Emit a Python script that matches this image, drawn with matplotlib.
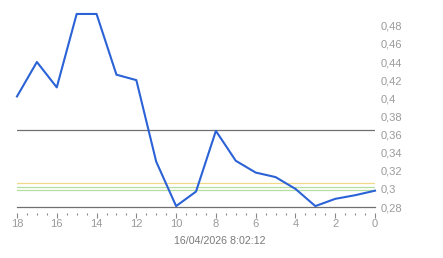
import numpy as np
import matplotlib
matplotlib.use("Agg")
import matplotlib.pyplot as plt
from matplotlib.ticker import FuncFormatter, MultipleLocator

# Data
hours = [18, 17, 16, 15, 14, 13, 12, 11, 10, 9, 8, 7, 6, 5, 4, 3, 2, 1, 0]
values = [0.402, 0.440, 0.412, 0.493, 0.493, 0.426, 0.420, 0.330, 0.281, 0.297,
          0.364, 0.331, 0.318, 0.313, 0.300, 0.281, 0.289, 0.293, 0.298]

ref_gray = 0.365
ref_orange = 0.3065
ref_greens = [0.302, 0.2988]

y_ticks = [0.28, 0.30, 0.32, 0.34, 0.36, 0.38, 0.40, 0.42, 0.44, 0.46, 0.48]
x_ticks = [18, 16, 14, 12, 10, 8, 6, 4, 2, 0]
stamp = "16/04/2026 8:02:12"

plt.rcParams["font.family"] = ["Liberation Sans", "DejaVu Sans"]
label_color = "#9a9a9a"

fig = plt.figure(figsize=(4.43, 2.58), dpi=100)
ax = fig.add_axes([17 / 443, 51 / 258, 358 / 443, 203 / 258])

ax.axhline(ref_gray, color="#707070", linewidth=0.9, zorder=1)
ax.axhline(ref_orange, color="#f2d98a", linewidth=0.9, zorder=1)
for g in ref_greens:
    ax.axhline(g, color="#b5dfa0", linewidth=0.9, zorder=1)
ax.axhline(0.28, color="#707070", linewidth=0.9, zorder=1, clip_on=False)

ax.plot(hours, values, color="#2b62d6", linewidth=1.5, zorder=3, clip_on=False)

ax.set_xlim(18, 0)
ax.set_ylim(0.28, 0.504)

for s in ["top", "left", "right"]:
    ax.spines[s].set_visible(False)
ax.spines["bottom"].set_position(("outward", 4))
ax.spines["bottom"].set_visible(False)

ax.set_xticks(x_ticks)
ax.xaxis.set_minor_locator(MultipleLocator(0.5))
ax.tick_params(axis="x", which="major", length=3.6, width=0.8, color="#888888",
               labelcolor=label_color, labelsize=8, pad=1)
ax.tick_params(axis="x", which="minor", length=1.4, width=0.8, color="#888888")

ax.yaxis.tick_right()
ax.set_yticks(y_ticks)
ax.yaxis.set_major_formatter(FuncFormatter(lambda v, p: f"{v:.2f}".rstrip("0").replace(".", ",")))
ax.tick_params(axis="y", length=0, labelcolor=label_color, labelsize=8, pad=4)

fig.text(220 / 443, 1 - 241 / 258, stamp, ha="center", va="center",
         color="#7a7a7a", fontsize=7.7)

fig.savefig("out.png", dpi=100, facecolor="white")
